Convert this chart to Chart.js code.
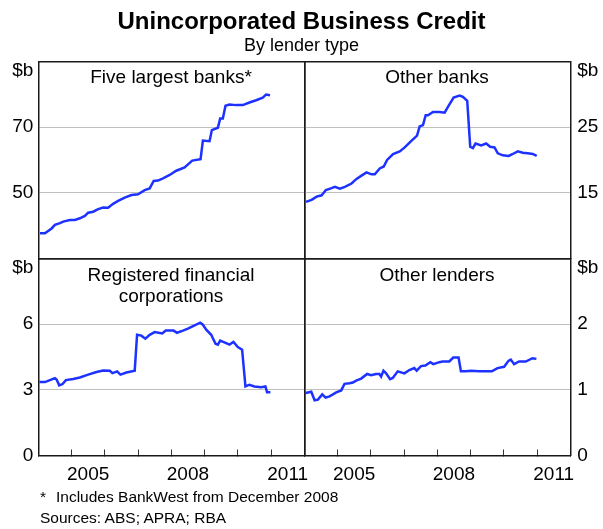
<!DOCTYPE html>
<html><head><meta charset="utf-8">
<script src="https://cdn.jsdelivr.net/npm/chart.js@4.4.1/dist/chart.umd.min.js"></script>
<style>
html,body{margin:0;padding:0;background:#fff;}
#wrap{position:relative;width:603px;height:529px;overflow:hidden;font-family:'Liberation Sans',Arial,sans-serif;color:#000;}
canvas{position:absolute;left:0;top:0;}
.t{position:absolute;white-space:nowrap;text-align:center;}
.f{position:absolute;white-space:nowrap;font-size:15.5px;line-height:17px;}
</style></head><body>
<div id="wrap">
<canvas id="c1" width="603" height="529"></canvas>
<canvas id="c2" width="603" height="529"></canvas>
<canvas id="c3" width="603" height="529"></canvas>
<canvas id="c4" width="603" height="529"></canvas>
<div class="t" style="left:0;width:603px;top:7px;font-size:24px;font-weight:bold;line-height:28px;">Unincorporated Business Credit</div>
<div class="t" style="left:0;width:603px;top:35px;font-size:18px;line-height:20px;">By lender type</div>
<div class="t" style="left:38px;width:266px;top:66px;font-size:19px;line-height:21px;">Five largest banks*</div>
<div class="t" style="left:304px;width:266px;top:66px;font-size:19px;line-height:21px;">Other banks</div>
<div class="t" style="left:38px;width:266px;top:264px;font-size:19px;line-height:21px;">Registered financial<br>corporations</div>
<div class="t" style="left:304px;width:266px;top:264px;font-size:19px;line-height:21px;">Other lenders</div>
<div class="f" style="left:40px;top:488px;">*</div>
<div class="f" style="left:56px;top:488px;">Includes BankWest from December 2008</div>
<div class="f" style="left:40px;top:509px;">Sources: ABS; APRA; RBA</div>
</div>
<script>
// ---- data ----
const years = [2004, 2005, 2006, 2007, 2008, 2009, 2010, 2011];
const labelledYears = [2005, 2008, 2011];

const fiveLargestDates = [2004.05,2004.20,2004.40,2004.50,2004.65,2004.75,2004.95,2005.10,2005.25,2005.40,2005.50,2005.65,2005.80,2005.95,2006.10,2006.25,2006.40,2006.60,2006.80,2007.00,2007.20,2007.35,2007.47,2007.60,2007.75,2007.95,2008.15,2008.40,2008.63,2008.88,2008.95,2009.15,2009.22,2009.40,2009.47,2009.55,2009.63,2009.75,2009.95,2010.15,2010.35,2010.55,2010.75,2010.85,2010.97];
const fiveLargestValues = [37.6,37.6,39.1,40.2,40.7,41.2,41.7,41.7,42.2,42.9,43.9,44.2,45.0,45.5,45.4,46.6,47.5,48.5,49.3,49.5,50.8,51.3,53.6,53.7,54.4,55.4,56.7,57.7,59.8,60.2,65.9,65.7,69.1,69.8,72.6,72.6,76.5,76.9,76.7,76.7,77.5,78.2,79.0,79.9,79.7];
const fiveLargestTicks = [30, 50, 70, 90];

const otherBanksDates = [2004.05,2004.22,2004.37,2004.52,2004.65,2004.82,2004.92,2005.07,2005.22,2005.42,2005.57,2005.72,2005.87,2006.02,2006.12,2006.27,2006.39,2006.49,2006.67,2006.87,2007.02,2007.22,2007.39,2007.47,2007.57,2007.65,2007.72,2007.87,2008.07,2008.22,2008.32,2008.49,2008.67,2008.77,2008.90,2008.99,2009.07,2009.15,2009.32,2009.47,2009.59,2009.72,2009.82,2009.97,2010.15,2010.27,2010.42,2010.57,2010.72,2010.87,2010.99];
const otherBanksValues = [13.6,13.9,14.4,14.6,15.4,15.7,15.9,15.6,15.9,16.4,17.1,17.6,18.1,17.8,17.8,18.7,19.0,20.0,20.9,21.3,21.9,22.9,23.7,25.1,25.3,26.8,26.8,27.3,27.3,27.2,28.1,29.5,29.8,29.6,29.0,22.0,21.8,22.5,22.2,22.5,22.0,21.9,21.0,20.7,20.6,20.9,21.3,21.1,21.0,20.9,20.6];
const otherBanksTicks = [5, 15, 25, 35];

const rfcDates = [2004.03,2004.20,2004.35,2004.50,2004.55,2004.63,2004.73,2004.83,2005.05,2005.25,2005.50,2005.75,2005.95,2006.15,2006.23,2006.37,2006.47,2006.65,2006.90,2006.97,2007.10,2007.22,2007.35,2007.50,2007.73,2007.83,2008.07,2008.17,2008.35,2008.50,2008.70,2008.87,2008.95,2009.05,2009.20,2009.33,2009.40,2009.47,2009.65,2009.75,2009.87,2010.00,2010.13,2010.23,2010.35,2010.50,2010.70,2010.83,2010.88,2010.98];
const rfcValues = [3.35,3.35,3.44,3.53,3.47,3.20,3.26,3.44,3.49,3.56,3.69,3.81,3.88,3.87,3.76,3.84,3.69,3.79,3.87,5.51,5.47,5.33,5.51,5.63,5.57,5.70,5.70,5.60,5.70,5.79,5.94,6.06,5.97,5.74,5.51,5.10,5.06,5.24,5.13,5.06,5.18,4.95,4.83,3.15,3.23,3.15,3.12,3.15,2.89,2.89];
const rfcTicks = [0, 3, 6, 9];

const otherLendersDates = [2004.04,2004.21,2004.31,2004.41,2004.54,2004.64,2004.76,2004.96,2005.11,2005.21,2005.36,2005.46,2005.56,2005.71,2005.89,2006.01,2006.16,2006.26,2006.31,2006.38,2006.46,2006.58,2006.66,2006.81,2007.01,2007.16,2007.31,2007.38,2007.51,2007.64,2007.79,2007.88,2008.06,2008.16,2008.36,2008.48,2008.64,2008.71,2008.86,2009.01,2009.26,2009.64,2009.81,2010.01,2010.14,2010.21,2010.31,2010.46,2010.66,2010.86,2010.98];
const otherLendersValues = [0.95,0.97,0.84,0.85,0.93,0.88,0.90,0.96,0.99,1.09,1.10,1.11,1.14,1.17,1.24,1.22,1.24,1.24,1.20,1.29,1.25,1.16,1.18,1.28,1.25,1.30,1.33,1.29,1.36,1.37,1.42,1.39,1.42,1.43,1.43,1.49,1.49,1.28,1.28,1.29,1.28,1.28,1.33,1.35,1.44,1.46,1.39,1.43,1.43,1.48,1.47];
const otherLendersTicks = [0, 1, 2, 3];

// ---- drawing ----
const LINE = 'rgb(30,50,255)';
const G = {L: 38.3, M: 304.3, R: 570.3, T: 61.5, MY: 258.3, B: 455.5, W: 603, H: 529};
Chart.defaults.font.family = "'Liberation Sans', Arial, sans-serif";
Chart.defaults.font.size = 19;
Chart.defaults.color = '#000';

function makePanel(id, dates, values, ticks, col, row) {
  const isLeft = col === 'left', isTop = row === 'top';
  const yMin = ticks[0], yMax = ticks[ticks.length - 1];
  const xAxisH = isTop ? 0 : 40;
  const padding = {
    left: isLeft ? 0 : G.M,
    right: isLeft ? G.W - G.M : 0,
    top: isTop ? G.T : G.MY,
    bottom: isTop ? G.H - G.MY : G.H - G.B - xAxisH
  };
  const borderOpts = {display: true, color: '#1a1a1a', width: 1.5};
  new Chart(document.getElementById(id), {
    type: 'line',
    data: {datasets: [{
      data: dates.map((d, i) => ({x: d, y: values[i]})),
      borderColor: LINE, borderWidth: 2.5, pointRadius: 0, tension: 0, fill: false
    }]},
    options: {
      responsive: false, animation: false, events: [],
      layout: {padding},
      plugins: {legend: {display: false}, tooltip: {enabled: false}},
      scales: {
        x: {
          type: 'linear', position: 'bottom', min: 2004, max: 2012,
          afterBuildTicks: s => { s.ticks = years.map(y => ({value: y + 0.5})); },
          ticks: {display: !isTop, autoSkip: false, maxRotation: 0, padding: 14,
            callback: v => labelledYears.includes(Math.floor(v)) ? String(Math.floor(v)) : ''},
          grid: {display: !isTop, offset: true, drawOnChartArea: false, drawTicks: true,
            tickLength: -6, tickColor: '#333', tickWidth: 1},
          border: borderOpts,
          afterFit: s => { s.height = xAxisH; }
        },
        x2: {type: 'linear', position: 'top', display: true, ticks: {display: false},
          grid: {display: false}, border: borderOpts, afterFit: s => { s.height = 0; }},
        y: {
          type: 'linear', position: isLeft ? 'left' : 'right', min: yMin, max: yMax,
          afterBuildTicks: s => { s.ticks = ticks.map(v => ({value: v})); },
          ticks: {padding: isLeft ? 5 : 7, font: {lineHeight: 0.95},
            callback: v => v === yMax ? ['', '$b'] : (v === yMin ? (isTop ? '' : String(v)) : String(v))},
          grid: {drawTicks: false, lineWidth: 1,
            color: c => (c.tick && (c.tick.value === yMin || c.tick.value === yMax)) ? 'rgba(0,0,0,0)' : '#c0c0c0'},
          border: borderOpts,
          afterFit: s => { s.width = isLeft ? G.L : G.W - G.R; }
        },
        y2: {type: 'linear', position: isLeft ? 'right' : 'left', display: true, ticks: {display: false},
          grid: {display: false}, border: borderOpts, afterFit: s => { s.width = 0; }}
      }
    }
  });
}

makePanel('c1', fiveLargestDates, fiveLargestValues, fiveLargestTicks, 'left', 'top');
makePanel('c2', otherBanksDates, otherBanksValues, otherBanksTicks, 'right', 'top');
makePanel('c3', rfcDates, rfcValues, rfcTicks, 'left', 'bottom');
makePanel('c4', otherLendersDates, otherLendersValues, otherLendersTicks, 'right', 'bottom');
</script>
</body></html>
